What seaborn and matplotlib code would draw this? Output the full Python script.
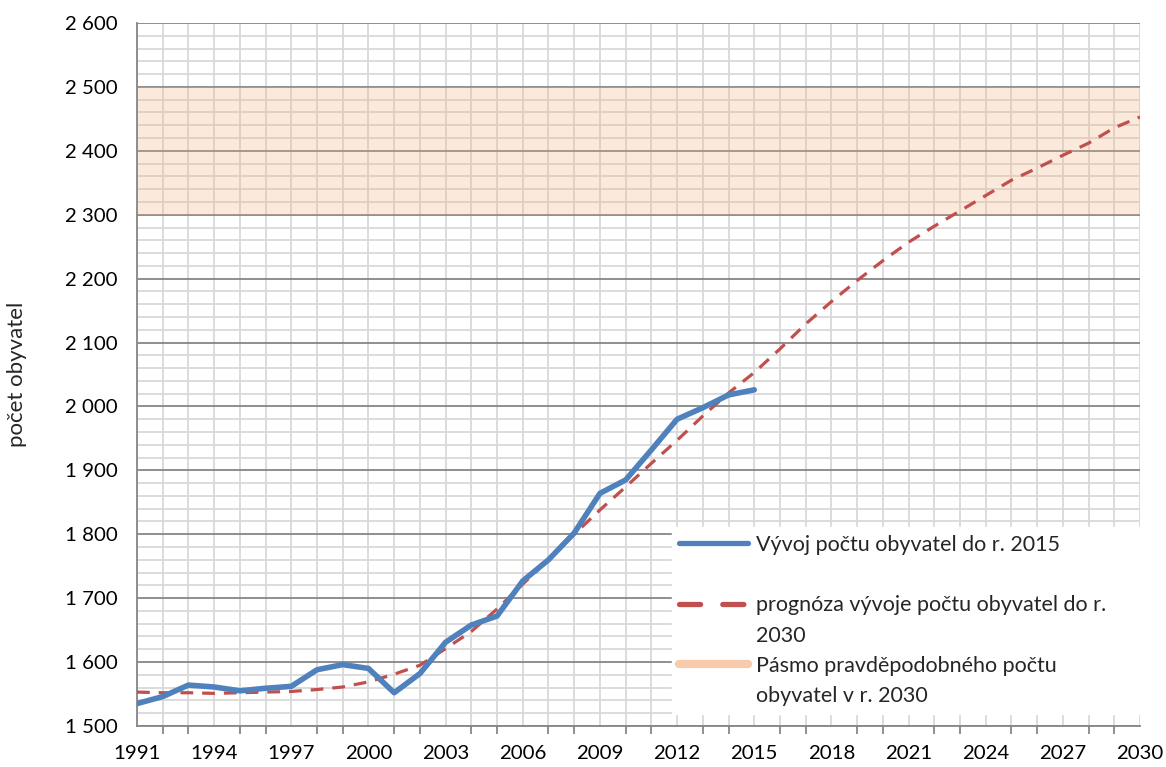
import numpy as np
import pandas as pd
import matplotlib
matplotlib.use("Agg")
from matplotlib import pyplot as plt
from matplotlib.ticker import MultipleLocator, FuncFormatter
from matplotlib.lines import Line2D
import seaborn as sns

# skutečný vývoj 1991-2015
roky = list(range(1991, 2016))
obyvatel = [1535, 1546, 1564, 1561, 1555, 1559, 1562, 1588, 1596, 1590,
            1552, 1582, 1631, 1658, 1672, 1727, 1760, 1802, 1864, 1885,
            1932, 1980, 1998, 2018, 2026]

# prognóza 1991-2030
roky_prog = list(range(1991, 2031))
prognoza = [1553, 1552, 1552, 1551, 1552, 1553, 1554, 1557, 1561, 1569,
            1581, 1595, 1621, 1648, 1683, 1722, 1760, 1800, 1838, 1874,
            1911, 1947, 1985, 2021, 2053, 2090, 2129, 2164, 2197, 2228,
            2257, 2282, 2306, 2330, 2354, 2373, 2393, 2412, 2436, 2453]

pasmo_min, pasmo_max = 2300, 2500
x_popisky = list(range(1991, 2031, 3))

sns.set_theme(style="white")
plt.rcParams['font.family'] = ['Lato', 'DejaVu Sans']

fig = plt.figure(figsize=(11.66, 7.67), dpi=100)
ax = fig.add_axes([0.1175, 0.0535, 0.8602, 0.9165])

# pásmo
ax.fill_between([1991, 2030], pasmo_min, pasmo_max, color="#F4B183",
                alpha=0.28, lw=0, zorder=1)

df = pd.DataFrame({"rok": roky, "pocet": obyvatel})
dfp = pd.DataFrame({"rok": roky_prog, "pocet": prognoza})
sns.lineplot(data=dfp, x="rok", y="pocet", ax=ax, color="#C0504D", lw=2.3,
             zorder=3)
ax.lines[-1].set_dashes((4, 2.8))
sns.lineplot(data=df, x="rok", y="pocet", ax=ax, color="#4F81BD", lw=4,
             zorder=4, solid_joinstyle="round")

ax.set_xlim(1991, 2030)
ax.set_ylim(1500, 2600)
ax.set_xticks(x_popisky)
ax.xaxis.set_minor_locator(MultipleLocator(1))
ax.yaxis.set_major_locator(MultipleLocator(100))
ax.yaxis.set_minor_locator(MultipleLocator(20))
ax.yaxis.set_major_formatter(FuncFormatter(lambda v, p: f"{v:,.0f}".replace(",", " ")))

ax.set_axisbelow(True)
ax.grid(True, axis="x", which="both", color="#D9D9D9", lw=1.3)
ax.grid(True, axis="y", which="minor", color="#D9D9D9", lw=1.3)
ax.grid(True, axis="y", which="major", color="#868686", lw=1.3)

for s in ["top", "right"]:
    ax.spines[s].set_visible(False)
for s in ["left", "bottom"]:
    ax.spines[s].set_color("#868686")
    ax.spines[s].set_linewidth(1.3)

ax.tick_params(axis="both", which="major", direction="out", length=6,
               width=1.3, color="#868686", labelsize=14.7, labelcolor="black")
ax.tick_params(axis="x", which="minor", direction="out", length=6,
               width=1.3, color="#868686", bottom=True)
ax.tick_params(axis="y", which="minor", left=False)
ax.tick_params(axis="y", which="major", pad=8)
ax.tick_params(axis="x", which="major", pad=8)

ax.set_xlabel("")
ax.set_ylabel("počet obyvatel", fontsize=16)
ax.yaxis.set_label_coords(-0.11, 0.5)

prazdny = Line2D([], [], color="none")
handles = [
    Line2D([], [], color="#4F81BD", lw=3.8, solid_capstyle="round"),
    prazdny,
    Line2D([], [], color="#C0504D", lw=3.8, dashes=(4.0, 4.2), dash_capstyle="round"),
    prazdny,
    Line2D([], [], color="#F8CBAD", lw=6),
    prazdny,
]
labels = [
    "Vývoj počtu obyvatel do r. 2015",
    " ",
    "prognóza vývoje počtu obyvatel do r.",
    "2030",
    "Pásmo pravděpodobného počtu",
    "obyvatel v r. 2030",
]
leg = ax.legend(handles, labels, loc="upper left",
                bbox_to_anchor=(0.533, 0.018, 0.467, 0.265), mode="expand",
                frameon=True, fancybox=False, fontsize=15.5, handlelength=3.2,
                handletextpad=0.35, labelspacing=0.48, borderpad=0.35,
                borderaxespad=0)
leg.get_frame().set_facecolor("white")
leg.get_frame().set_edgecolor("white")
leg.get_frame().set_alpha(1)

fig.savefig("out.png", dpi=100)
